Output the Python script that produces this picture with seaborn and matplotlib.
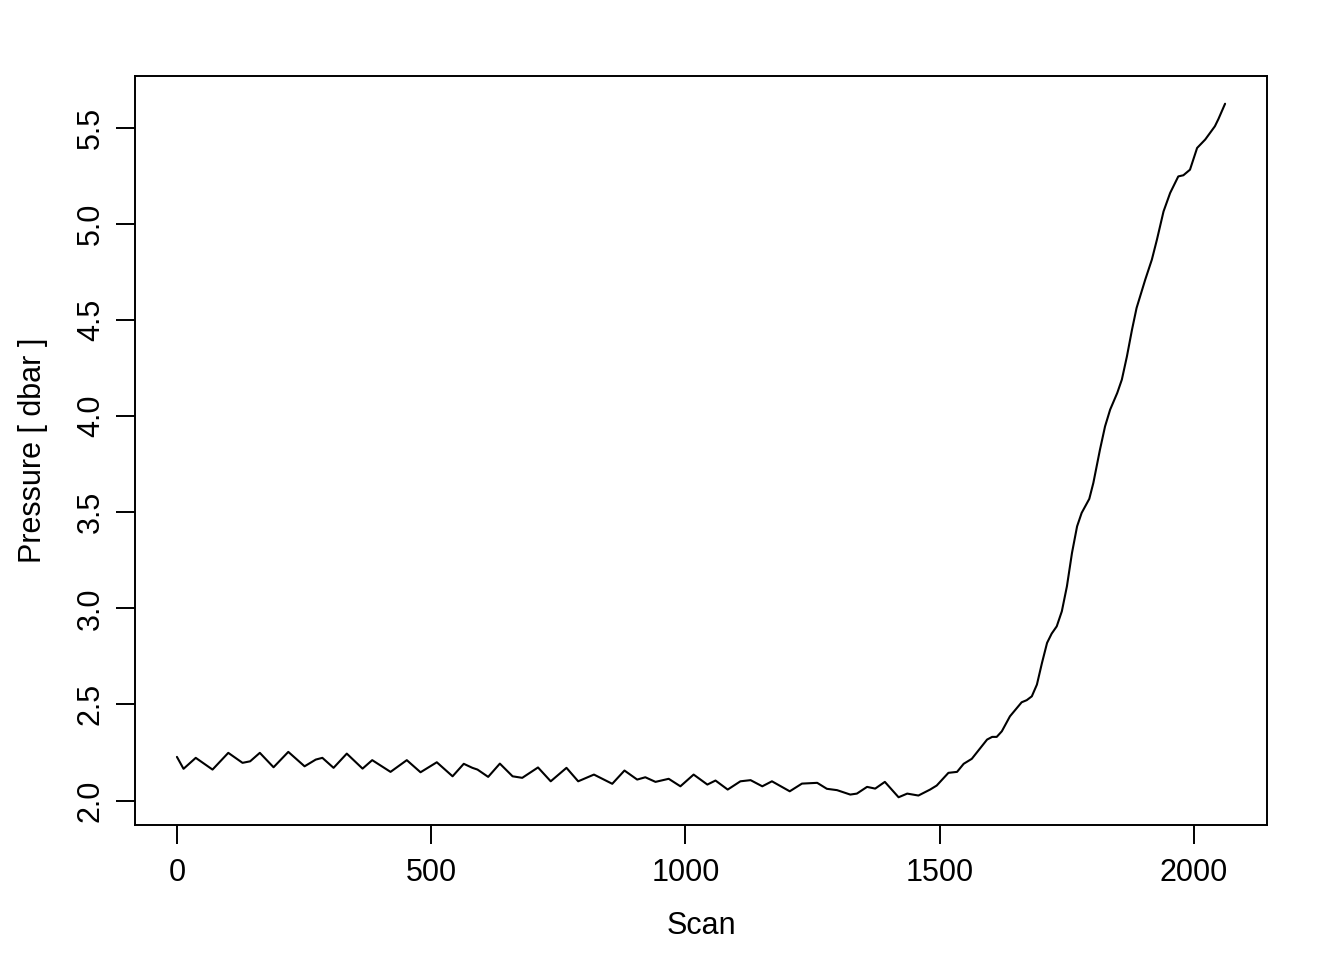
import matplotlib
matplotlib.use("Agg")
import matplotlib.pyplot as plt
import seaborn as sns
import pandas as pd

scan = [0, 13, 37, 70, 101, 129, 144, 163, 190, 219, 251, 273, 286, 308, 334, 365, 384, 420,
        452, 479, 511, 542, 564, 581, 591, 612, 635, 660, 679, 710, 735, 766, 789, 820, 856,
        880, 905, 921, 941, 967, 990, 1016, 1043, 1059, 1083, 1108, 1128, 1151, 1170, 1205,
        1229, 1259, 1278, 1298, 1324, 1337, 1357, 1373, 1392, 1419, 1436, 1458, 1481, 1494,
        1517, 1534, 1547, 1563, 1593, 1603, 1612, 1622, 1638, 1661, 1671, 1681, 1691, 1701,
        1711, 1720, 1730, 1740, 1750, 1760, 1770, 1779, 1794, 1802, 1815, 1825, 1835, 1849,
        1858, 1868, 1878, 1887, 1904, 1917, 1927, 1940, 1953, 1969, 1979, 1992, 2006, 2022,
        2041, 2048, 2061]
pressure = [2.227, 2.165, 2.222, 2.161, 2.248, 2.196, 2.204, 2.248, 2.173, 2.253, 2.178, 2.213,
            2.222, 2.170, 2.244, 2.166, 2.210, 2.149, 2.210, 2.147, 2.199, 2.126, 2.191, 2.170,
            2.161, 2.123, 2.192, 2.126, 2.118, 2.172, 2.100, 2.170, 2.100, 2.135, 2.087, 2.156,
            2.109, 2.121, 2.097, 2.113, 2.074, 2.135, 2.083, 2.104, 2.057, 2.100, 2.106, 2.074,
            2.100, 2.048, 2.088, 2.092, 2.061, 2.054, 2.031, 2.036, 2.071, 2.062, 2.097, 2.017,
            2.036, 2.026, 2.057, 2.078, 2.144, 2.149, 2.191, 2.217, 2.317, 2.331, 2.331, 2.360,
            2.438, 2.511, 2.522, 2.542, 2.603, 2.716, 2.820, 2.868, 2.906, 2.984, 3.114, 3.288,
            3.426, 3.496, 3.569, 3.652, 3.825, 3.946, 4.033, 4.120, 4.189, 4.310, 4.449, 4.562,
            4.709, 4.813, 4.917, 5.064, 5.160, 5.246, 5.252, 5.281, 5.394, 5.438, 5.507, 5.545,
            5.624]
x_ticks = [0, 500, 1000, 1500, 2000]
y_ticks = [2.0, 2.5, 3.0, 3.5, 4.0, 4.5, 5.0, 5.5]

sns.set_style("ticks")
plt.rcParams['font.family'] = ['Liberation Sans', 'DejaVu Sans']
plt.rcParams['axes.labelcolor'] = 'black'
plt.rcParams['text.color'] = 'black'

fig = plt.figure(figsize=(13.44, 9.6), dpi=100)
ax = fig.add_axes([135/1344, 1 - 825/960, (1267-135)/1344, (825-76)/960])

df = pd.DataFrame({"Scan": scan, "Pressure": pressure})
sns.lineplot(data=df, x="Scan", y="Pressure", ax=ax, color="black", linewidth=1.5,
             sort=False, estimator=None)
ax.lines[0].set_solid_joinstyle("round")

xr = max(scan) - min(scan)
yr = max(pressure) - min(pressure)
ax.set_xlim(min(scan) - 0.04 * xr, max(scan) + 0.04 * xr)
ax.set_ylim(min(pressure) - 0.04 * yr, max(pressure) + 0.04 * yr)

ax.set_xticks(x_ticks)
ax.set_xticklabels([str(t) for t in x_ticks])
ax.set_yticks(y_ticks)
ax.set_yticklabels([f"{t:.1f}" for t in y_ticks], rotation=90, va="center")

for s in ax.spines.values():
    s.set_visible(True)
    s.set_color("black")
    s.set_linewidth(1.4)
ax.tick_params(axis="both", direction="out", length=14, width=1.4, colors="black",
               labelsize=22)
ax.tick_params(axis="x", pad=10)
ax.tick_params(axis="y", pad=7)

ax.set_xlabel("Scan", fontsize=22, labelpad=16)
ax.set_ylabel("Pressure [ dbar ]", fontsize=22, labelpad=20)

fig.savefig("out.png", dpi=100, facecolor="white")
